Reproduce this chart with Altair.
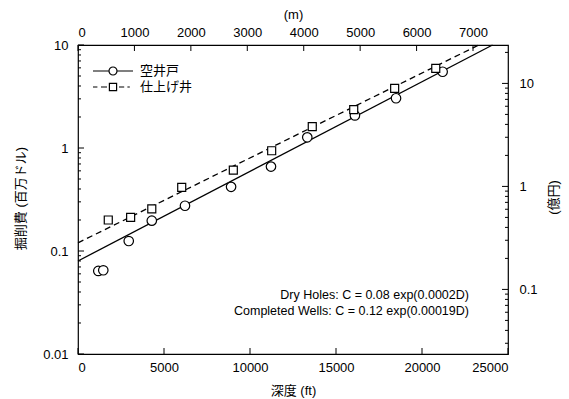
import altair as alt
import pandas as pd

FONT = "Liberation Sans, Noto Sans CJK JP, sans-serif"

# ---- data ----
series_names = ["空井戸", "仕上げ井"]
dry_ft = [1180, 1470, 2950, 4290, 6220, 8900, 11220, 13330, 16100, 18490, 21200]
dry_cost = [0.064, 0.065, 0.125, 0.197, 0.275, 0.42, 0.66, 1.27, 2.07, 3.04, 5.5]
comp_ft = [1760, 3060, 4290, 6030, 9030, 11260, 13620, 16030, 18410, 20800]
comp_cost = [0.20, 0.212, 0.256, 0.415, 0.61, 0.94, 1.61, 2.36, 3.80, 5.94]

# fitted lines: end points (start at 0 ft, end where the line reaches 10)
dry_fit_ft = [0, 24100]
dry_fit_cost = [0.08, 10]
comp_fit_ft = [0, 23300]
comp_fit_cost = [0.12, 10]

annot_text = ["Dry Holes: C = 0.08 exp(0.0002D)", "Completed Wells: C = 0.12 exp(0.00019D)"]
annot_ft = [22730, 22730]
annot_cost = [0.0374, 0.0261]

x_ticks_ft = [0, 5000, 10000, 15000, 20000, 25000]
y_major = [0.01, 0.1, 1, 10]
y_minor = [k * d for d in (0.01, 0.1, 1) for k in range(2, 10)]
top_ticks_m = [0, 1000, 2000, 3000, 4000, 5000, 6000, 7000]
right_major = [0.1, 1, 10]
right_minor = [k * d for d in (0.01, 0.1, 1) for k in range(2, 10) if 0.0236 <= k * d] + [20]

W, H = 430, 309
common_axis = dict(ticks=False, tickSize=0, domain=False, grid=False,
                   labelFont=FONT, labelFontSize=13, labelColor="black",
                   titleFont=FONT, titleFontSize=13, titleFontWeight="normal", titleColor="black")

# ---- scales / axes ----
x_scale = alt.Scale(domain=[0, 25000], nice=False, zero=False)
y_scale = alt.Scale(type="log", domain=[0.01, 10], nice=False)
x_axis = alt.Axis(values=x_ticks_ft, format="d", labelPadding=7, title="深度 (ft)",
                  titleX=W / 2, titleY=36, titleBaseline="middle", titleAlign="center", **common_axis)
y_axis = alt.Axis(values=y_major, format="~g", labelPadding=10, title="掘削費 (百万ドル)",
                  titleAngle=-90, titleX=-58, titleY=153, titleBaseline="middle",
                  titleAlign="center", **common_axis)

def X(field="ft"):
    return alt.X(f"{field}:Q", scale=x_scale, axis=x_axis)

def Y(field="cost"):
    return alt.Y(f"{field}:Q", scale=y_scale, axis=y_axis)

dry_df = pd.DataFrame({"ft": dry_ft, "cost": dry_cost})
comp_df = pd.DataFrame({"ft": comp_ft, "cost": comp_cost})
dry_fit_df = pd.DataFrame({"ft": dry_fit_ft, "cost": dry_fit_cost})
comp_fit_df = pd.DataFrame({"ft": comp_fit_ft, "cost": comp_fit_cost})
annot_df = pd.DataFrame({"ft": annot_ft, "cost": annot_cost, "t": annot_text})

dry_line = alt.Chart(dry_fit_df).mark_line(color="black", strokeWidth=1.3).encode(x=X(), y=Y())
comp_line = alt.Chart(comp_fit_df).mark_line(color="black", strokeWidth=1.3, strokeDash=[6, 4]).encode(x=X(), y=Y())
dry_pts = alt.Chart(dry_df).mark_point(shape="circle", size=90, filled=True, fill="white",
                                        stroke="black", strokeWidth=1.2, opacity=1).encode(x=X(), y=Y())
comp_pts = alt.Chart(comp_df).mark_point(shape="square", size=64, filled=True, fill="white",
                                          stroke="black", strokeWidth=1.2, opacity=1).encode(x=X(), y=Y())

annot = alt.Chart(annot_df).mark_text(align="right", baseline="middle", font=FONT, fontSize=12.5,
                                      color="black").encode(x=X(), y=Y(), text="t:N")

# ticks drawn inward
ymaj_df = pd.DataFrame({"cost": y_major})
ymin_df = pd.DataFrame({"cost": y_minor})
xt_df = pd.DataFrame({"ft": x_ticks_ft})
left_major = alt.Chart(ymaj_df).mark_rule(color="black").encode(y=Y(), x=alt.value(0), x2=alt.value(6))
left_minor = alt.Chart(ymin_df).mark_rule(color="black").encode(y=Y(), x=alt.value(0), x2=alt.value(3))
bottom_ticks = alt.Chart(xt_df).mark_rule(color="black").encode(x=X(), y=alt.value(H), y2=alt.value(H - 6))

# legend (line + marker symbols); path units scaled so a small symbolSize keeps rows tight
circle_path = ("M-2.5,0L-0.5,0M0.5,0L2.5,0"
               "M-0.5,0A0.5,0.5,0,1,1,0.5,0A0.5,0.5,0,1,1,-0.5,0Z")
square_path = ("M-2.5,0L-1.95,0M-1.5,0L-0.75,0M0.75,0L1.4,0M1.8,0L2.1,0"
               "M-0.45,-0.45L0.45,-0.45L0.45,0.45L-0.45,0.45Z")
leg_df = pd.DataFrame({"series": series_names, "ft": [0, 0], "cost": [1, 1]})
legend_layer = alt.Chart(leg_df).mark_point(opacity=0).encode(
    x=X(), y=Y(),
    shape=alt.Shape("series:N",
                    scale=alt.Scale(domain=series_names, range=[circle_path, square_path]),
                    legend=alt.Legend(title=None, orient="none", legendX=26, legendY=17,
                                      symbolSize=256, symbolStrokeColor="black",
                                      symbolFillColor="white", symbolStrokeWidth=1.2,
                                      symbolOpacity=1, labelFont=FONT, labelFontSize=13,
                                      labelColor="black", labelOffset=18, padding=0,
                                      rowPadding=0)),
)

main = alt.layer(dry_line, comp_line, dry_pts, comp_pts, annot,
                 left_major, left_minor, bottom_ticks, legend_layer)

# right axis (億円)
r_scale = alt.Scale(type="log", domain=[0.0236, 23.6], nice=False)
r_axis = alt.Axis(orient="right", values=right_major, format="~g", labelPadding=11, title="(億円)",
                  titleAngle=-90, titleX=45, titleY=152, titleBaseline="middle",
                  titleAlign="center", **common_axis)
rmaj_df = pd.DataFrame({"yen": right_major})
rmin_df = pd.DataFrame({"yen": right_minor})
right_major_l = alt.Chart(rmaj_df).mark_rule(color="black").encode(
    y=alt.Y("yen:Q", scale=r_scale, axis=r_axis), x=alt.value(W), x2=alt.value(W - 6))
right_minor_l = alt.Chart(rmin_df).mark_rule(color="black").encode(
    y=alt.Y("yen:Q", scale=r_scale, axis=r_axis), x=alt.value(W), x2=alt.value(W - 3))
right = alt.layer(right_major_l, right_minor_l)

# top axis (m)
t_scale = alt.Scale(domain=[0, 7620], nice=False, zero=False)
t_axis = alt.Axis(orient="top", values=top_ticks_m, format="d", labelPadding=6, title="(m)",
                  titleX=W / 2, titleY=-31, titleBaseline="middle", titleAlign="center", **common_axis)
tt_df = pd.DataFrame({"m": top_ticks_m})
top = alt.Chart(tt_df).mark_rule(color="black").encode(
    x=alt.X("m:Q", scale=t_scale, axis=t_axis), y=alt.value(0), y2=alt.value(6))

chart = alt.layer(main, right, top).resolve_scale(
    x="independent", y="independent", shape="independent"
).properties(
    width=W, height=H,
    background="white",
    autosize=alt.AutoSizeParams(type="none"),
    padding={"left": 78, "top": 45, "right": 61, "bottom": 45},
).configure_view(stroke="black", strokeWidth=1.2)

chart.save("out.html", embed_options={"renderer": "svg", "actions": False})
